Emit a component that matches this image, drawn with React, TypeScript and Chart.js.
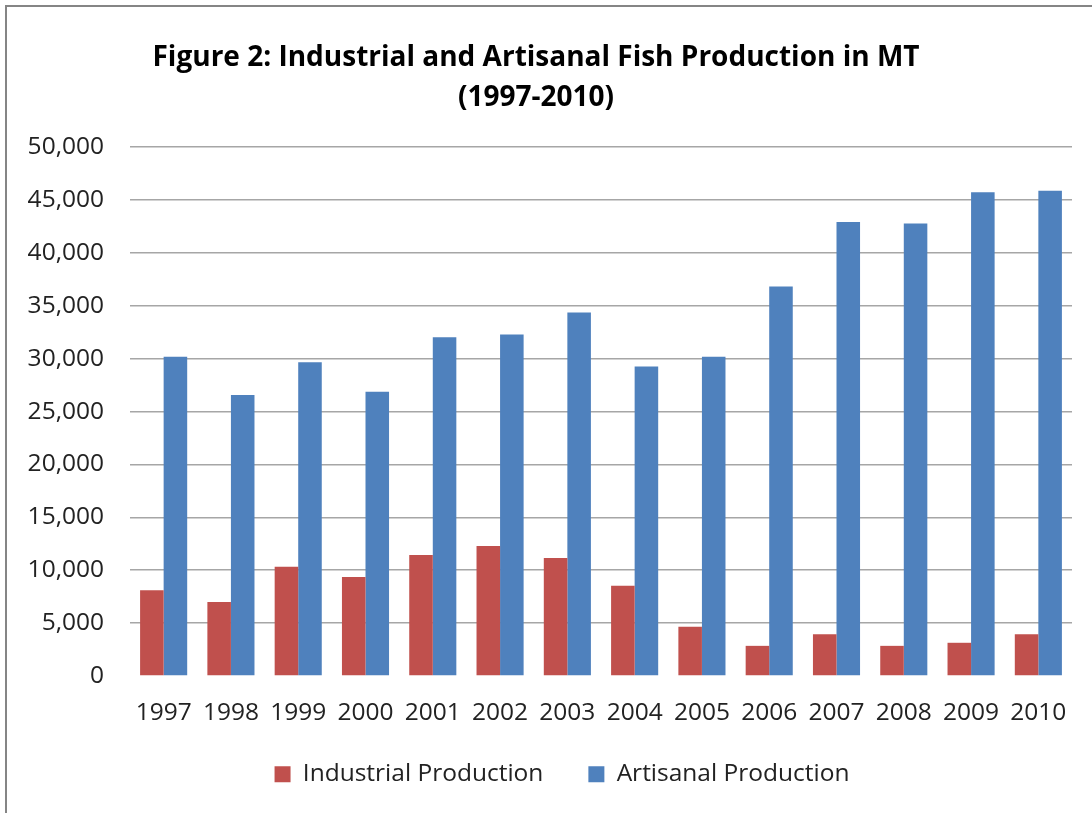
import React, { useEffect, useRef } from 'react';
import { Chart, registerables } from 'chart.js';

Chart.register(...registerables);

const years = ['1997', '1998', '1999', '2000', '2001', '2002', '2003', '2004', '2005', '2006', '2007', '2008', '2009', '2010'];
const industrialProduction = [8100, 6990, 10320, 9360, 11440, 12280, 11150, 8530, 4650, 2850, 3940, 2850, 3140, 3940];
const artisanalProduction = [30190, 26570, 29650, 26860, 32020, 32280, 34360, 29250, 30190, 36810, 42910, 42780, 45720, 45880];
const seriesNames = ['Industrial Production', 'Artisanal Production'];
const titleLines = ['Figure 2: Industrial and Artisanal Fish Production in MT', '(1997-2010)'];
const yMin = 0;
const yMax = 50000;
const yStep = 5000;

const FONT = '"Open Sans", Lato, sans-serif';

const legendShift = {
  id: 'legendShift',
  afterLayout(chart: any) {
    if (chart.legend) {
      chart.legend.top -= 11;
      chart.legend.bottom -= 11;
      chart.legend.left += 26;
      chart.legend.right += 26;
    }
  },
};

export default function App() {
  const ref = useRef<HTMLCanvasElement>(null);

  useEffect(() => {
    if (!ref.current) return;
    const chart = new Chart(ref.current, {
      type: 'bar',
      data: {
        labels: years,
        datasets: [
          {
            label: seriesNames[0],
            data: industrialProduction,
            backgroundColor: '#C0504D',
            borderWidth: 0,
          },
          {
            label: seriesNames[1],
            data: artisanalProduction,
            backgroundColor: '#4F81BD',
            borderWidth: 0,
          },
        ],
      },
      plugins: [legendShift],
      options: {
        animation: false,
        responsive: false,
        devicePixelRatio: 1,
        layout: { padding: { left: 0, right: 20, top: 0, bottom: 5.5 } },
        datasets: { bar: { barPercentage: 1, categoryPercentage: 0.7 } },
        plugins: {
          title: {
            display: true,
            text: titleLines,
            color: '#000',
            font: { family: FONT, size: 28, weight: 'bold', lineHeight: 1.43 },
            padding: { top: 38, bottom: 29 },
          },
          legend: {
            position: 'bottom',
            labels: {
              boxWidth: 16,
              boxHeight: 16,
              padding: 45,
              color: '#222',
              font: { family: FONT, size: 24.5 },
            },
          },
          tooltip: { enabled: false },
        },
        scales: {
          x: {
            grid: { display: false, drawTicks: false },
            border: { display: false },
            ticks: {
              color: '#222',
              font: { family: FONT, size: 24.5 },
              padding: 22,
              maxRotation: 0,
              autoSkip: false,
            },
            afterFit: (scale: any) => {
              scale.height = 52;
            },
          },
          y: {
            min: yMin,
            max: yMax,
            grid: {
              drawTicks: false,
              lineWidth: 1.5,
              color: (ctx: any) => (ctx.tick && ctx.tick.value === 0 ? 'rgba(0,0,0,0)' : '#A6A6A6'),
            },
            border: { display: false },
            ticks: {
              stepSize: yStep,
              color: '#222',
              font: { family: FONT, size: 24.5 },
              padding: 26,
              callback: (v: any) => Number(v).toLocaleString('en-US'),
            },
            afterFit: (scale: any) => {
              scale.width = 130;
            },
          },
        },
      },
    });
    return () => chart.destroy();
  }, []);

  return (
    <div style={{ position: 'fixed', left: 0, top: 0, width: 1092, height: 813, overflow: 'hidden', background: '#fff' }}>
      <div
        style={{
          position: 'absolute',
          left: 5,
          top: 5,
          width: 1200,
          height: 1000,
          borderLeft: '2px solid #858585',
          borderTop: '2px solid #858585',
        }}
      />
      <canvas ref={ref} width={1092} height={813} style={{ position: 'absolute', left: 0, top: 0 }} />
    </div>
  );
}
